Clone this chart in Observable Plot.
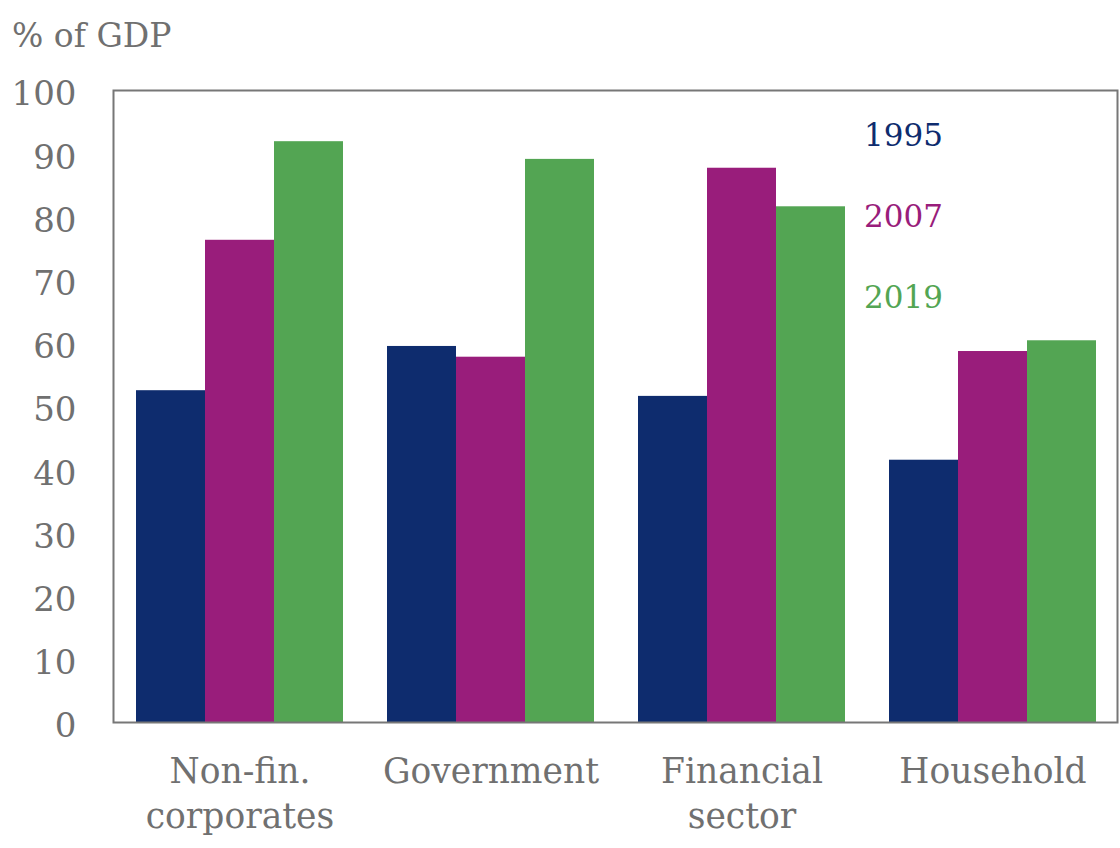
<!DOCTYPE html>
<html>
<head>
<meta charset="utf-8">
<script src="https://cdn.jsdelivr.net/npm/d3@7"></script>
<script src="https://cdn.jsdelivr.net/npm/@observablehq/plot@0.6"></script>
<style>
  html, body { margin: 0; padding: 0; background: #fff; }
  #wrap { position: relative; width: 1120px; height: 848px; font-family: "DejaVu Serif", serif; }
  #title { height: 60px; line-height: 72px; padding-left: 12px; font-size: 33px; color: #707070; }
  #legend { position: absolute; left: 864px; top: 117px; font-size: 31px; }
  #legend div { height: 81px; }
</style>
</head>
<body>
<div id="wrap">
  <div id="title">% of GDP</div>
  <div id="chart"></div>
  <div id="legend"></div>
</div>
<script>
const sectors = ["Non-fin.\ncorporates", "Government", "Financial\nsector", "Household"];
const years = ["1995", "2007", "2019"];
const v1995 = [52.5, 59.5, 51.6, 41.5];
const v2007 = [76.3, 57.8, 87.7, 58.7];
const v2019 = [91.9, 89.1, 81.6, 60.4];
const colors = ["#0e2c6e", "#991d7b", "#53a553"];
const yTicks = [0, 10, 20, 30, 40, 50, 60, 70, 80, 90, 100];

const series = [v1995, v2007, v2019];
const data = [];
sectors.forEach((s, i) => years.forEach((y, j) => data.push({sector: s, year: y, value: series[j][i]})));

const chart = Plot.plot({
  width: 1120,
  height: 788,
  marginTop: 30,
  marginBottom: 126,
  marginLeft: 113,
  marginRight: 2,
  style: {fontFamily: "DejaVu Serif, serif", color: "#707070", background: "#fff", overflow: "visible"},
  fx: {domain: sectors, paddingInner: 0.176, paddingOuter: 0.088},
  x: {domain: years, padding: 0, axis: null},
  y: {domain: [0, 100]},
  color: {domain: years, range: colors},
  marks: [
    Plot.barY(data, {fx: "sector", x: "year", y: "value", fill: "year"}),
    Plot.axisY({ticks: yTicks, tickSize: 0, tickPadding: 60, fontSize: 34, dy: 4, label: null, fill: "#707070"}),
    Plot.axisFx({anchor: "bottom", tickSize: 0, tickPadding: 29, fontSize: 34.5, lineHeight: 1.3, label: null, fill: "#707070", textAnchor: "middle"}),
    Plot.frame({facet: "super", stroke: "#777", strokeWidth: 2, insetLeft: -23, insetRight: -21})
  ]
});
document.getElementById("chart").appendChild(chart);

const leg = document.getElementById("legend");
years.forEach((y, i) => {
  const d = document.createElement("div");
  d.textContent = y;
  d.style.color = colors[i];
  leg.appendChild(d);
});
</script>
</body>
</html>
